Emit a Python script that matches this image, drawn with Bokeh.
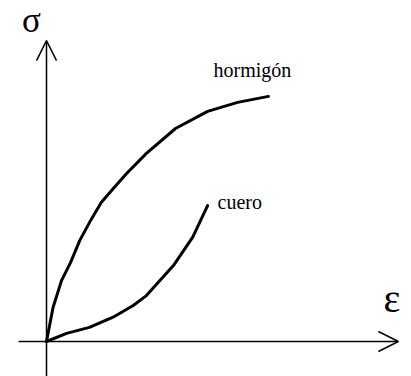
from bokeh.plotting import figure
from bokeh.models import Range1d, Arrow, OpenHead
from bokeh.core.properties import value
from bokeh.embed import file_html
from bokeh.resources import INLINE

# strain (epsilon) and stress (sigma) values, arbitrary units
hormigon_eps = [0.0, 0.22, 0.5, 0.8, 1.11, 1.44, 1.83, 2.22, 2.67, 3.33, 4.3, 5.37, 6.37, 7.4]
hormigon_sig = [0.0, 1.14, 2.03, 2.63, 3.37, 3.98, 4.64, 5.09, 5.6, 6.27, 7.1, 7.67, 7.97, 8.17]
cuero_eps = [0.0, 0.67, 1.43, 2.22, 2.89, 3.33, 3.57, 4.23, 4.87, 5.37]
cuero_sig = [0.0, 0.27, 0.47, 0.81, 1.2, 1.53, 1.8, 2.53, 3.47, 4.53]
series_labels = ["hormigón", "cuero"]
axis_labels = ["σ", "ε"]
eps_axis = [-0.93, 11.73]
sig_axis = [-1.17, 10.03]

SCALE = 30.0  # px per unit
p = figure(width=411, height=376, output_backend="svg", toolbar_location=None,
           x_range=Range1d(-46 / SCALE, 365 / SCALE),
           y_range=Range1d(-35 / SCALE, 341 / SCALE),
           min_border=0, min_border_left=0, min_border_right=0,
           min_border_top=0, min_border_bottom=0)
p.axis.visible = False
p.grid.visible = False
p.outline_line_color = None
p.background_fill_color = "white"
p.border_fill_color = "white"

FONT = value("Liberation Serif")

# axes with open arrow heads
p.add_layout(Arrow(end=OpenHead(size=20, line_width=1.5, line_color="black"),
                   x_start=eps_axis[0], y_start=0, x_end=eps_axis[1], y_end=0,
                   line_width=1.5, line_color="black"))
p.add_layout(Arrow(end=OpenHead(size=20, line_width=1.5, line_color="black"),
                   x_start=0, y_start=sig_axis[0], x_end=0, y_end=sig_axis[1],
                   line_width=1.5, line_color="black"))

# curves
p.line(hormigon_eps, hormigon_sig, line_width=3, line_color="black", line_join="round", line_cap="round")
p.line(cuero_eps, cuero_sig, line_width=3, line_color="black", line_join="round", line_cap="round")

# series labels anchored at curve ends
p.text(x=[hormigon_eps[-1]], y=[hormigon_sig[-1]], text=[series_labels[0]],
       x_offset=-55, y_offset=-26, text_font=FONT, text_font_size="20px",
       text_baseline="alphabetic", text_align="left", text_color="black")
p.text(x=[cuero_eps[-1]], y=[cuero_sig[-1]], text=[series_labels[1]],
       x_offset=10, y_offset=-4, text_font=FONT, text_font_size="20px",
       text_baseline="alphabetic", text_align="left", text_color="black")

# axis symbols
p.text(x=[0], y=[sig_axis[1]], text=[axis_labels[0]], x_offset=-15, y_offset=-20,
       text_font=FONT, text_font_size="35px", text_baseline="alphabetic",
       text_align="center", text_color="black")
p.text(x=[eps_axis[1]], y=[0], text=[axis_labels[1]], x_offset=-15, y_offset=-43,
       text_font=FONT, text_font_size="40px", text_baseline="alphabetic",
       text_align="left", text_color="black")

open("out.html", "w").write(file_html(p, INLINE))
